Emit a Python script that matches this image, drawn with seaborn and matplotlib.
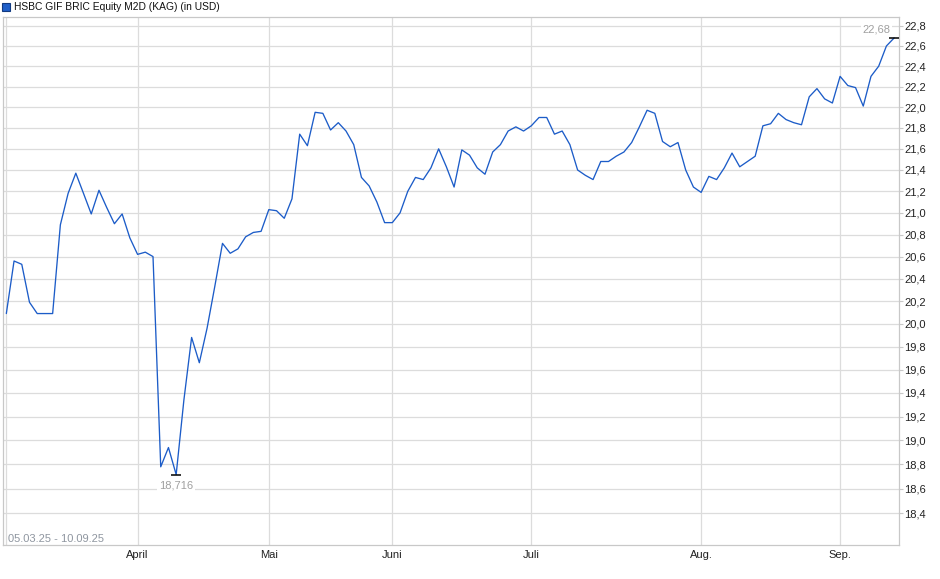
import matplotlib
matplotlib.use("Agg")
import numpy as np
import pandas as pd
import seaborn as sns
import matplotlib.pyplot as plt
from matplotlib.ticker import FixedLocator, FuncFormatter, NullLocator
from matplotlib.patches import Rectangle

# ---------------- data ----------------
title = "HSBC GIF BRIC Equity M2D (KAG) (in USD)"
date_range = "05.03.25 - 10.09.25"

prices = [20.09, 20.56, 20.53, 20.19, 20.09, 20.09, 20.09, 20.89, 21.18, 21.37,
          21.18, 20.99, 21.21, 21.05, 20.90, 20.99, 20.77, 20.62, 20.64, 20.60,
          18.78, 18.94, 18.716, 19.34, 19.88, 19.66, 19.96, 20.33, 20.72, 20.63,
          20.67, 20.78, 20.82, 20.83, 21.03, 21.02, 20.95, 21.13, 21.74, 21.63,
          21.95, 21.94, 21.78, 21.85, 21.77, 21.64, 21.33, 21.25, 21.10, 20.91,
          20.91, 21.00, 21.20, 21.33, 21.31, 21.42, 21.60, 21.43, 21.24, 21.59,
          21.54, 21.42, 21.36, 21.57, 21.64, 21.77, 21.81, 21.77, 21.82, 21.90,
          21.90, 21.74, 21.77, 21.64, 21.40, 21.35, 21.31, 21.48, 21.48, 21.53,
          21.57, 21.66, 21.81, 21.97, 21.94, 21.67, 21.62, 21.66, 21.40, 21.24,
          21.19, 21.34, 21.31, 21.42, 21.56, 21.43, 21.48, 21.53, 21.82, 21.84,
          21.94, 21.88, 21.85, 21.83, 22.10, 22.18, 22.08, 22.04, 22.30, 22.21,
          22.19, 22.01, 22.30, 22.40, 22.60, 22.68]

month_labels = ["April", "Mai", "Juni", "Juli", "Aug.", "Sep."]
month_start_idx = [17, 34, 50, 68, 90, 108]   # index of first trading day in month

y_ticks = [18.4, 18.6, 18.8, 19.0, 19.2, 19.4, 19.6, 19.8, 20.0, 20.2, 20.4,
           20.6, 20.8, 21.0, 21.2, 21.4, 21.6, 21.8, 22.0, 22.2, 22.4, 22.6, 22.8]

# ---------------- style ----------------
sns.set_style("white")
plt.rcParams["font.family"] = ["Liberation Sans", "DejaVu Sans"]

LINE = "#1c5cc8"
GRID = "#dcdcdc"
SPINE = "#c8c8c8"
ANN = "#a0a0a0"

W, H = 940, 579
fig = plt.figure(figsize=(W / 100, H / 100), dpi=100)
fig.patch.set_facecolor("white")

left_px, right_px, top_px, bottom_px = 2.7, 899, 17, 545
ax = fig.add_axes([left_px / W, (H - bottom_px) / H,
                   (right_px - left_px) / W, (bottom_px - top_px) / H])

df = pd.DataFrame({"idx": np.arange(len(prices)), "price": prices})
sns.lineplot(data=df, x="idx", y="price", ax=ax, color=LINE, linewidth=0.95)

ax.set_yscale("log")
ax.set_ylim(18.145, 22.89)
ax.set_xlim(-0.47, 115.63)

# y axis on right
ax.yaxis.tick_right()
ax.yaxis.set_major_locator(FixedLocator(y_ticks))
ax.yaxis.set_minor_locator(NullLocator())
ax.yaxis.set_major_formatter(FuncFormatter(lambda v, _: f"{v:.1f}".replace(".", ",")))
ax.tick_params(axis="y", which="major", direction="out", length=3, width=0.8,
               color=SPINE, labelsize=8, labelcolor="#222222", pad=0.8)

ax.xaxis.set_major_locator(FixedLocator(month_start_idx))
ax.set_xticklabels(month_labels)
ax.tick_params(axis="x", which="major", direction="out", length=2.5, width=0.8,
               color=SPINE, labelsize=8, labelcolor="#222222", pad=1.0)

ax.set_xlabel("")
ax.set_ylabel("")
ax.grid(True, color=GRID, linewidth=0.9)
ax.axvline(0, color=GRID, linewidth=0.9, zorder=0)
ax.set_axisbelow(True)
for s in ax.spines.values():
    s.set_color(SPINE)
    s.set_linewidth(0.9)

# extreme markers and labels
def fmt(v):
    return f"{v:.3f}".rstrip("0").rstrip(".").replace(".", ",")

i_min = int(np.argmin(prices))
i_last = len(prices) - 1
ax.plot([i_min], [prices[i_min]], marker="_", markersize=7.5, mew=1.1,
        color="black", zorder=5)
ax.plot([i_last], [prices[i_last]], marker="_", markersize=7.5, mew=1.1,
        color="black", zorder=5, clip_on=False)
box = dict(boxstyle="square,pad=0.15", fc="white", ec="none")
ax.annotate(fmt(prices[i_min]), (i_min, prices[i_min]), xytext=(0, -8),
            textcoords="offset points", ha="center", va="center",
            fontsize=8, color=ANN, bbox=box, zorder=6)
ax.annotate(fmt(prices[i_last]), (i_last, prices[i_last]), xytext=(-2.5, 6),
            textcoords="offset points", ha="right", va="center",
            fontsize=8, color=ANN, bbox=box, zorder=6)

# date range text bottom-left inside plot
ax.text(8 / W, (H - 539) / H, date_range, transform=fig.transFigure,
        fontsize=8, color="#8f96a0", ha="left", va="center")

# legend / title top-left
fig.patches.append(Rectangle((1.5 / W, (H - 10.5) / H), 8 / W, 8 / H,
                             transform=fig.transFigure, facecolor="#1f5fc8",
                             edgecolor="#123a80", linewidth=0.8))
fig.text(14 / W, (H - 6.5) / H, title, fontsize=7.4, color="#111111",
         ha="left", va="center")

fig.savefig("out.png", dpi=100, facecolor="white")
